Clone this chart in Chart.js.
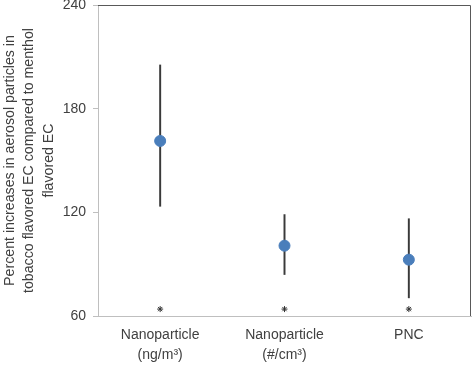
<!DOCTYPE html>
<html>
<head>
<meta charset="utf-8">
<script src="https://cdn.jsdelivr.net/npm/chart.js@4"></script>
<style>
  html, body { margin: 0; padding: 0; background: #fff; }
  #wrap { width: 472px; height: 366px; }
</style>
</head>
<body>
<div id="wrap"><canvas id="pctChart"></canvas></div>
<script>
var categories = [['Nanoparticle', '(ng/m\u00b3)'], ['Nanoparticle', '(#/cm\u00b3)'], 'PNC'];
var meanValues = [161.3, 100.7, 92.6];
var lowValues = [123.5, 84.0, 70.5];
var highValues = [205.3, 118.7, 116.3];
var starValues = [64, 64, 64];
var yTicks = [60, 120, 180, 240];

// dark top/right border of the plot area
var frame = {
    id: 'frame',
    beforeDatasetsDraw: function(chart) {
        var a = chart.chartArea, c = chart.ctx;
        c.save();
        c.strokeStyle = '#595959';
        c.lineWidth = 1;
        c.beginPath();
        c.moveTo(a.left, a.top + 0.5);
        c.lineTo(a.right - 0.5, a.top + 0.5);
        c.lineTo(a.right - 0.5, a.bottom);
        c.stroke();
        c.restore();
    }
};

document.addEventListener("DOMContentLoaded", function() {
    var ctx = document.getElementById('pctChart').getContext('2d');
    var errBars = lowValues.map(function(v, i) { return [v, highValues[i]]; });

    new Chart(ctx, {
        data: {
            labels: categories,
            datasets: [{
                type: 'line',
                data: meanValues,
                showLine: false,
                pointRadius: 5.5,
                pointBackgroundColor: '#4a7ebb',
                pointBorderColor: '#4a7ebb',
                order: 0
            }, {
                type: 'line',
                data: starValues,
                showLine: false,
                pointStyle: 'star',
                pointRadius: 3,
                pointBorderWidth: 1,
                pointBorderColor: '#333333',
                order: 1
            }, {
                type: 'bar',
                data: errBars,
                barThickness: 1.3,
                backgroundColor: '#3a3a3a',
                order: 2
            }]
        },
        options: {
            responsive: true,
            maintainAspectRatio: false,
            animation: false,
            layout: { autoPadding: false, padding: { top: 5, right: 1, left: 0, bottom: 0 } },
            plugins: { legend: { display: false }, tooltip: { enabled: false } },
            scales: {
                x: {
                    offset: true,
                    grid: { display: false },
                    border: { display: true, color: '#bfbfbf', width: 1 },
                    ticks: {
                        color: '#404040',
                        font: { family: 'Liberation Sans', size: 14, lineHeight: 1.45 },
                        padding: 1,
                        maxRotation: 0
                    },
                    afterFit: function(s) { s.height = 50; }
                },
                y: {
                    min: 60,
                    max: 240,
                    afterBuildTicks: function(s) {
                        s.ticks = yTicks.map(function(v) { return { value: v }; });
                    },
                    grid: {
                        drawOnChartArea: false,
                        drawTicks: true,
                        tickLength: 5,
                        color: '#bfbfbf'
                    },
                    border: { display: true, color: '#bfbfbf', width: 1 },
                    ticks: {
                        color: '#404040',
                        font: { family: 'Liberation Sans', size: 14 },
                        padding: 7
                    },
                    title: {
                        display: true,
                        text: ['Percent increases in aerosol particles in',
                               'tobacco flavored EC compared to menthol',
                               'flavored EC'],
                        color: '#404040',
                        font: { family: 'Liberation Sans', size: 14.2, lineHeight: 1.37 },
                        padding: { top: 0, bottom: 4 }
                    },
                    afterFit: function(s) {
                        s.width = 98;
                        s.paddingTop = 0;
                        s.paddingBottom = 0;
                    }
                }
            }
        },
        plugins: [frame]
    });
});
</script>
</body>
</html>
